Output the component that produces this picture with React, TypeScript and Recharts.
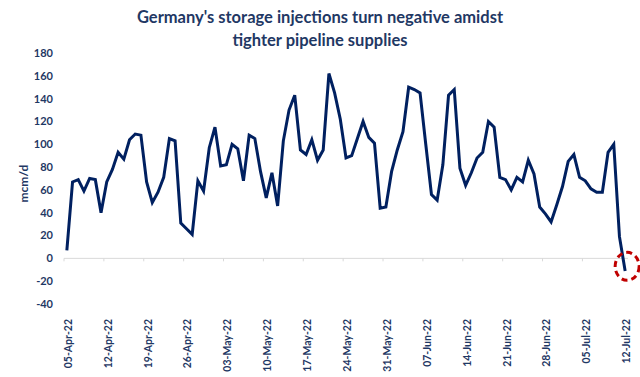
import React from "react";
import {
  LineChart,
  Line,
  XAxis,
  YAxis,
  ReferenceLine,
  ReferenceDot,
} from "recharts";

// daily storage injections, mcm/d, 05-Apr-22 .. 12-Jul-22
const injections = [
  7, 67, 69, 59, 70, 69, 40, 67, 78, 93, 87, 104, 109, 108, 67, 49, 58, 71, 105, 103,
  31, 26, 21, 68, 59, 97, 115, 81, 82, 100, 96, 68, 108, 105, 76, 53, 75, 46, 103, 130,
  143, 95, 91, 104, 86, 95, 162, 145, 122, 88, 90, 105, 120, 106, 101, 44, 45, 76, 95, 111,
  150, 148, 145, 100, 56, 51, 82, 143, 148, 79, 64, 75, 88, 93, 120, 115, 71, 69, 60, 71,
  67, 86, 74, 45, 39, 32, 47, 63, 85, 91, 71, 68, 61, 58, 58, 93, 100, 19, -11,
];

const weekLabels = [
  "05-Apr-22", "12-Apr-22", "19-Apr-22", "26-Apr-22", "03-May-22", "10-May-22",
  "17-May-22", "24-May-22", "31-May-22", "07-Jun-22", "14-Jun-22", "21-Jun-22",
  "28-Jun-22", "05-Jul-22", "12-Jul-22",
];
const weekTicks = weekLabels.map((_, i) => i * 7);
const yTicks = [-40, -20, 0, 20, 40, 60, 80, 100, 120, 140, 160, 180];

const data = injections.map((v, i) => ({ day: i, value: v }));

const NAVY = "#002060";
const TEXT = "#1F3864";
const FONT = "Lato, 'Open Sans', sans-serif";

if (typeof document !== "undefined") document.body.style.margin = "0";

const DateTick = ({ x, y, payload }: any) => {
  const idx = weekTicks.indexOf(payload.value);
  return (
    <g transform={`translate(${x},${y})`}>
      <text
        x={-7}
        y={0}
        dy={5}
        transform="rotate(-90)"
        textAnchor="end"
        fill={TEXT}
        fontSize={10.5}
        fontWeight={700}
        fontFamily={FONT}
      >
        {weekLabels[idx]}
      </text>
    </g>
  );
};

const Highlight = ({ cx, cy }: any) => (
  <ellipse
    cx={cx + 2}
    cy={cy}
    rx={12}
    ry={14}
    fill="none"
    stroke="#C00000"
    strokeWidth={3}
    strokeDasharray="6 4"
  />
);

export default function App() {
  return (
    <div style={{ position: "relative", width: 640, height: 377, background: "#fff", fontFamily: FONT }}>
      <div
        style={{
          position: "absolute",
          top: 6,
          left: 0,
          width: 640,
          textAlign: "center",
          color: TEXT,
          fontWeight: 700,
          fontSize: 16.5,
          lineHeight: "23px",
        }}
      >
        <div>Germany's storage injections turn negative amidst</div>
        <div>tighter pipeline supplies</div>
      </div>
      <LineChart
        width={640}
        height={377}
        data={data}
        margin={{ top: 53, right: 12, bottom: 0, left: 0 }}
      >
        <XAxis
          dataKey="day"
          type="number"
          domain={[-0.5, 98.5]}
          ticks={weekTicks}
          interval={0}
          axisLine={false}
          tickLine={false}
          height={73}
          tick={<DateTick />}
        />
        <YAxis
          domain={[-40, 180]}
          ticks={yTicks}
          interval={0}
          width={64}
          axisLine={false}
          tickLine={false}
          tickSize={6}
          tickMargin={5}
          tick={{ fill: TEXT, fontSize: 11, fontWeight: 700, fontFamily: FONT }}
          label={{
            value: "mcm/d",
            angle: -90,
            position: "insideLeft",
            offset: 24,
            dy: 24,
            fill: TEXT,
            fontSize: 12,
            fontWeight: 700,
            fontFamily: FONT,
          }}
        />
        <ReferenceLine y={0} stroke="#d9d9d9" strokeWidth={1} ifOverflow="extendDomain" />
        {weekTicks.map((t) => (
          <ReferenceLine
            key={t}
            segment={[
              { x: t - 0.5, y: 0 },
              { x: t - 0.5, y: -2.6 },
            ]}
            stroke="#d9d9d9"
          />
        ))}
        <Line
          type="linear"
          dataKey="value"
          stroke={NAVY}
          strokeWidth={3}
          dot={false}
          isAnimationActive={false}
        />
        <ReferenceDot x={98} y={-7} shape={<Highlight />} />
      </LineChart>
    </div>
  );
}
